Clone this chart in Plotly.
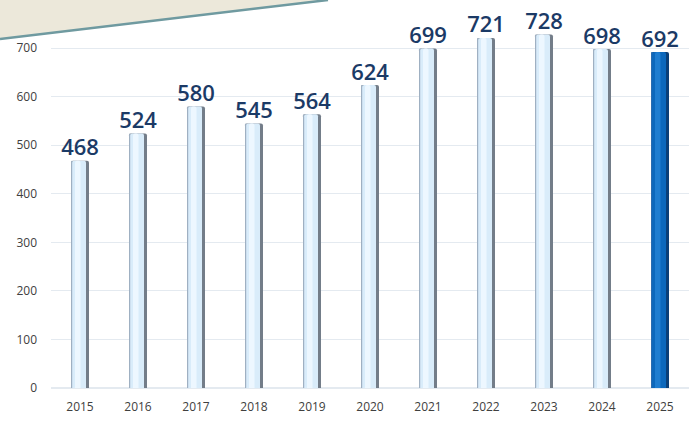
import plotly.graph_objects as go

years = [2015, 2016, 2017, 2018, 2019, 2020, 2021, 2022, 2023, 2024, 2025]
values = [468, 524, 580, 545, 564, 624, 699, 721, 728, 698, 692]
y_ticks = [0, 100, 200, 300, 400, 500, 600, 700]

W, H = 690, 423
ML, MR, MT, MB = 51, 1, 19, 35
PW = W - ML - MR
PH = H - MT - MB
STEP = PW / len(years)  # px per category


def u(px):
    return px / STEP


n = len(years)
hl = n - 1
def cols(normal, last):
    return [last if i == hl else normal for i in range(n)]

layers = [
    # (left px, right px, normal colour, highlight colour)
    (-9, 9, "#737D89", "#0A3F78"),
    (-9, -7.8, "#9FB0C2", "#2A6CB0"),
    (-7.8, 6, "#D9ECFA", "#0C68BC"),
    (-5, 0.5, "#EDF7FF", "#1F7DD0"),
]

fig = go.Figure()
for l, r, c1, c2 in layers:
    fig.add_trace(go.Bar(
        x=years, y=values, width=u(r - l), offset=u(l),
        marker=dict(color=cols(c1, c2), line=dict(width=0), cornerradius=2),
        hoverinfo="skip", showlegend=False,
    ))

fig.add_trace(go.Scatter(
    x=years, y=values, mode="text", text=[str(v) for v in values],
    textposition="top center",
    textfont=dict(family="Open Sans", size=22, color="#1B3A66", weight=600),
    showlegend=False, hoverinfo="skip", cliponaxis=False,
))


def px2p(px, py):
    return (px - ML) / PW, (H - MB - py) / PH

p0 = px2p(0, 0)
p1 = px2p(328, 0)
p2 = px2p(0, 39)
fig.add_shape(type="path", xref="paper", yref="paper",
              path=f"M {p0[0]},{p0[1]} L {p1[0]},{p1[1]} L {p2[0]},{p2[1]} Z",
              fillcolor="#ECE8DA", line=dict(width=0), layer="above")
fig.add_shape(type="line", xref="paper", yref="paper",
              x0=p2[0], y0=p2[1], x1=p1[0], y1=p1[1],
              line=dict(color="#6F9AA0", width=2.5), layer="above")

fig.update_layout(
    width=W, height=H,
    margin=dict(l=ML, r=MR, t=MT, b=MB),
    barmode="overlay",
    plot_bgcolor="white", paper_bgcolor="white",
    font=dict(family="Open Sans", color="#404040"),
    xaxis=dict(range=[years[0] - 0.5, years[-1] + 0.5], tickmode="array",
               tickvals=years, ticktext=[str(y) for y in years],
               showgrid=False, zeroline=False, showline=False,
               tickfont=dict(size=12, color="#404040"), ticklabelstandoff=10),
    yaxis=dict(range=[0, 760], tickmode="array", tickvals=y_ticks,
               showgrid=True, gridcolor="#E4EAF0", gridwidth=1,
               zeroline=True, zerolinecolor="#E4EAF0", showline=False,
               tickfont=dict(size=12, color="#404040"), ticklabelstandoff=13),
)

fig.write_html("out.html")
